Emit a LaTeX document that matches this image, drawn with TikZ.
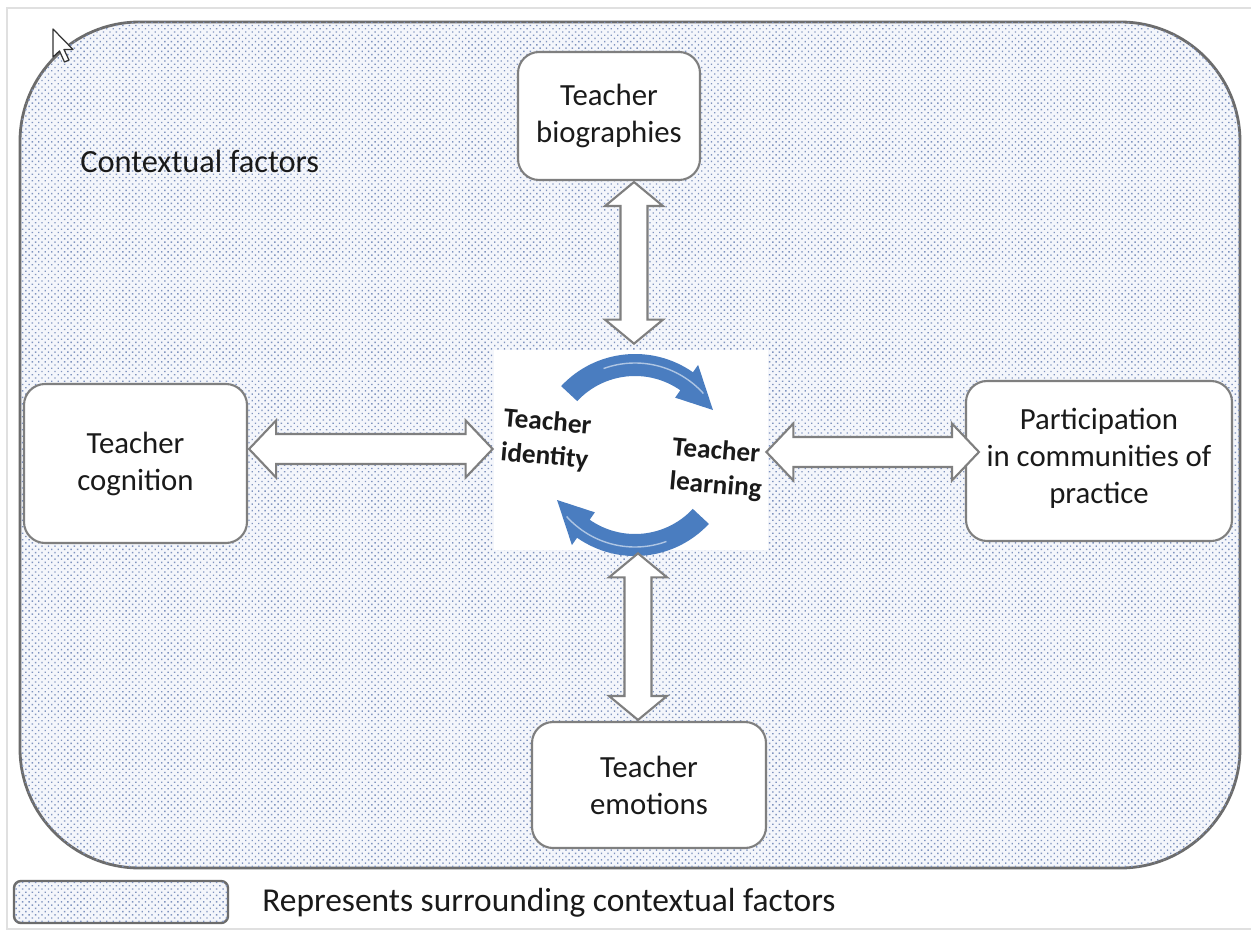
\documentclass[tikz,border=0pt]{standalone}
\usepackage{fontspec}
\setmainfont{Carlito}
\usetikzlibrary{calc,patterns.meta}
\definecolor{bordergray}{HTML}{7F7F7F}
\definecolor{dotblue}{HTML}{7F93BF}
\definecolor{bgblue}{HTML}{F4F6FB}
\definecolor{arrowblue}{HTML}{4A7DC0}
\definecolor{txt}{HTML}{1A1A1A}
\def\pxu{0.5685pt}
\tikzset{
  context/.style={draw=bordergray!85!black, line width=1.6pt, fill=bgblue,
    postaction={pattern={Dots[radius=0.55pt,distance=2.6pt,angle=45]}, pattern color=dotblue}},
  box/.style={draw=bordergray, line width=1.2pt, fill=white, rounded corners=12pt,
    align=center, font=\fontsize{17.5}{21}\selectfont, text=txt},
  dblarrow/.style={draw=bordergray, line width=1.2pt, fill=white, line join=miter},
  cyc/.style={fill=arrowblue, draw=none},
  innertext/.style={font=\bfseries\fontsize{15.5}{19.5}\selectfont, align=left, text=txt, inner sep=0pt},
  plain/.style={text=txt, inner sep=0pt}
}
\newcommand\vdarrow[2]{\draw[dblarrow] (#1) -- ($(#1)+(29,24)$) -- ($(#1)+(13.5,24)$) -- ($(#2)+(13.5,-24)$) -- ($(#2)+(29,-24)$) -- (#2) -- ($(#2)+(-29,-24)$) -- ($(#2)+(-13.5,-24)$) -- ($(#1)+(-13.5,24)$) -- ($(#1)+(-29,24)$) -- cycle;}
\newcommand\hdarrow[2]{\draw[dblarrow] (#1) -- ($(#1)+(27,-28.5)$) -- ($(#1)+(27,-15)$) -- ($(#2)+(-27,-15)$) -- ($(#2)+(-27,-28.5)$) -- (#2) -- ($(#2)+(-27,28.5)$) -- ($(#2)+(-27,15)$) -- ($(#1)+(27,15)$) -- ($(#1)+(27,28.5)$) -- cycle;}
\begin{document}
\begin{tikzpicture}[x=0.5685pt, y=-0.5685pt]
\useasboundingbox (0,0) rectangle (1251,931);
\fill[white] (0,0) rectangle (1251,931);
% faint frame
\draw[black!12, line width=0.8pt] (1251,8) -- (7,8) -- (7,929) -- (1251,929);
% outer context area
\draw[context, rounded corners=68pt] (20,22) rectangle (1240,868);
% cursor
\draw[fill=white, draw=black!80, line width=0.7pt, line join=round] (53,29) -- ++(0,28) -- ++(6.5,-6) -- ++(5,11) -- ++(4.5,-2) -- ++(-5,-10.5) -- ++(9,0) -- cycle;
\node[plain, anchor=west, font=\fontsize{18.4}{22}\selectfont] (ctxlabel) at (80,161) {Contextual factors};
% boxes
\node[box, minimum width=182*\pxu, minimum height=128*\pxu] (bio) at (609,116) {Teacher\\biographies};
\node[box, minimum width=223*\pxu, minimum height=159*\pxu] (cog) at (135.5,463.5) {Teacher\\cognition};
\node[box, minimum width=266*\pxu, minimum height=160*\pxu, text depth=0.6em] (part) at (1099,461) {Participation\\in communities of\\practice};
\node[box, minimum width=234*\pxu, minimum height=126*\pxu] (emo) at (649,785) {Teacher\\emotions};
\node[fill=white, draw=none, minimum width=274*\pxu, minimum height=200*\pxu] (ctr) at (631,450) {};
% cycle arrows
\coordinate (C) at (635,455);
\fill[cyc] ($(C)+(223:101)$) arc[start angle=223, end angle=305, radius=101] -- ($(C)+(305:110)$) -- ($(C)+(330:90)$) -- ($(C)+(305:70)$) -- ($(C)+(305:79)$) arc[start angle=305, end angle=223, radius=79] -- cycle;
\fill[cyc] ($(C)+(43:101)$) arc[start angle=43, end angle=125, radius=101] -- ($(C)+(125:110)$) -- ($(C)+(150:90)$) -- ($(C)+(125:70)$) -- ($(C)+(125:79)$) arc[start angle=125, end angle=43, radius=79] -- cycle;
\draw[white!55!arrowblue, line width=0.8pt] ($(C)+(250:92)$) arc[start angle=250, end angle=318, radius=92];
\draw[white!55!arrowblue, line width=0.8pt] ($(C)+(70:92)$) arc[start angle=70, end angle=138, radius=92];
\node[innertext, rotate=-5] (ident) at (546,440) {Teacher\\identity};
\node[innertext, rotate=-5] (learn) at (717,469) {Teacher\\learning};
% double arrows
\coordinate (t1) at ($(bio.south)+(25,1)$);
\coordinate (t2) at ($(t1 |- ctr.north)+(0,-6)$);
\vdarrow{t1}{t2}
\coordinate (b1) at ($(ctr.south)+(7,3)$);
\coordinate (b2) at ($(b1 |- emo.north)+(0,-1)$);
\vdarrow{b1}{b2}
\coordinate (l1) at ($(cog.east)+(1,-14.5)$);
\coordinate (l2) at ($(l1 -| ctr.west)+(-1,0)$);
\hdarrow{l1}{l2}
\coordinate (r1) at ($(ctr.east)+(-2,2)$);
\coordinate (r2) at ($(r1 -| part.west)+(14,0)$);
\hdarrow{r1}{r2}
% legend
\node[context, line width=1.4pt, rounded corners=4pt, minimum width=214*\pxu, minimum height=42*\pxu] (legendbox) at (121,902) {};
\node[plain, anchor=west, font=\fontsize{19}{23}\selectfont] (legendtext) at (262,903) {Represents surrounding contextual factors};
\end{tikzpicture}
\end{document}
